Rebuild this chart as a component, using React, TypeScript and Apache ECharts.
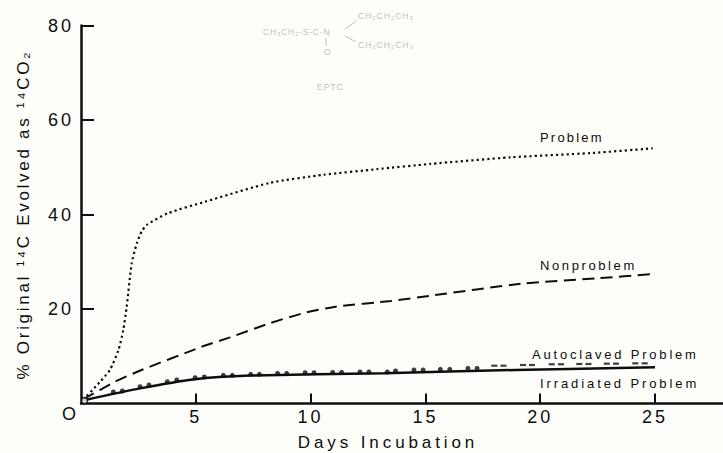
import React, { useEffect, useRef } from "react";
import * as echarts from "echarts";

const xTicks = [5, 10, 15, 20, 25];
const yTicks = [20, 40, 60, 80];

const problem = [[0.1,0.8],[0.83,4.6],[1.26,7.1],[1.63,11.3],[1.84,15.5],[1.99,20.5],[2.21,29.7],[2.43,33.9],[2.64,36.4],[2.86,37.8],[3.8,40.3],[5.4,42.7],[8.23,46.7],[10.55,48.4],[12.9,49.6],[15.2,50.7],[18.7,52.1],[22.2,53],[24.9,54]];
const nonproblem = [[0.1,0.9],[1.48,4.6],[2.64,7.1],[5.26,12],[6.49,14],[8.23,17],[9.67,19.1],[11.1,20.5],[13.5,21.7],[15.2,22.8],[19.25,25.4],[22.5,26.5],[24.9,27.4]];
const irradiated = [[0.03,0.6],[2.57,3.2],[4.88,5.1],[7.36,5.9],[13.2,6.4],[18.9,7.1],[25,7.65]];
const autoclavedDots = [[1.41,2.43],[1.8,2.65],[2.57,3.56],[2.96,3.92],[3.76,4.62],[4.17,4.97],[4.97,5.47],[5.37,5.61],[6.2,5.96],[6.59,5.96],[7.39,6.17],[7.77,6.17],[8.56,6.38],[8.96,6.38],[9.76,6.52],[10.15,6.52],[10.96,6.59],[11.35,6.59],[12.15,6.66],[12.54,6.66],[13.34,6.66],[13.7,6.88],[14.5,7.09],[14.9,7.09],[15.65,7.23],[16.06,7.23],[16.85,7.44],[17.25,7.44]];
const autoclavedDashes = [[18,8],[18.4,8],[19.25,8.15],[19.64,8.15],[20.5,8.3],[20.9,8.3],[21.7,8.36],[22.1,8.36],[22.9,8.43],[23.3,8.43],[24.14,8.5],[24.55,8.5]];
const origin = [[0.15,0.6]];

const INK = "#0e0e0e";
const PAPER = "#fdfdf9";
const FAINT = "#c2c2bc";
const SANS = '"Liberation Sans", Arial, sans-serif';

const curveLabels = [
  { text: "Problem", x: 540, y: 137 },
  { text: "Nonproblem", x: 540, y: 265 },
  { text: "Autoclaved Problem", x: 532, y: 354 },
  { text: "Irradiated Problem", x: 540, y: 383 },
];
const structureLabels = [
  { text: "CH₃CH₂-S-C-N", x: 263, y: 32 },
  { text: "CH₂CH₂CH₃", x: 358, y: 16 },
  { text: "CH₂CH₂CH₃", x: 358, y: 45 },
  { text: "O", x: 324, y: 52 },
  { text: "EPTC", x: 317, y: 87 },
];
const spacing: Record<string, number> = {
  "Days Incubation": 3.9,
  "% Original ¹⁴C Evolved as ¹⁴CO₂": 2.7,
  "Problem": 2.2,
  "Nonproblem": 2.6,
  "Autoclaved Problem": 2.8,
  "Irradiated Problem": 2.9,
  "CH₃CH₂-S-C-N": 0.8,
  "CH₂CH₂CH₃": 1,
  "EPTC": 1,
};

export default function App() {
  const ref = useRef<HTMLDivElement>(null);
  useEffect(() => {
    document.body.style.margin = "0";
    document.body.style.background = PAPER;
    const chart = echarts.init(ref.current!, undefined, { renderer: "svg" });
    const lineBase = { type: "line", showSymbol: false, smooth: 0.2, silent: true };
    chart.setOption({
      animation: false,
      backgroundColor: PAPER,
      grid: { left: 81, right: 0, top: 25.5, bottom: 49.5, outerBoundsMode: "none" },
      xAxis: {
        type: "value", min: 0, max: 27.96,
        splitLine: { show: false },
        axisLine: { lineStyle: { color: INK, width: 2.5 } },
        axisTick: { inside: true, length: 10, customValues: xTicks, lineStyle: { color: INK, width: 2 } },
        axisLabel: { customValues: xTicks, color: INK, fontFamily: SANS, fontSize: 18, margin: 4 },
        name: "Days Incubation", nameLocation: "middle", nameGap: 30,
        nameTextStyle: { color: INK, fontFamily: SANS, fontSize: 17, padding: [0, 28, 0, 0] },
      },
      yAxis: {
        type: "value", min: 0, max: 80,
        splitLine: { show: false },
        axisLine: { lineStyle: { color: INK, width: 2.5 } },
        axisTick: { inside: true, length: 13, customValues: yTicks, lineStyle: { color: INK, width: 2 } },
        axisLabel: { customValues: yTicks, color: INK, fontFamily: SANS, fontSize: 18, margin: 7 },
        name: "% Original ¹⁴C Evolved as ¹⁴CO₂", nameLocation: "middle", nameGap: 49,
        nameTextStyle: { color: INK, fontFamily: SANS, fontSize: 17 },
      },
      series: [
        { ...lineBase, name: "Problem", data: problem, lineStyle: { color: INK, width: 2.2, type: [2.2, 3.1] } },
        { ...lineBase, name: "Nonproblem", data: nonproblem, lineStyle: { color: INK, width: 2, type: [12, 6.5] } },
        { ...lineBase, name: "Irradiated Problem", data: irradiated, lineStyle: { color: INK, width: 2.5 } },
        { type: "scatter", name: "Autoclaved Problem", data: autoclavedDots, symbol: "circle", symbolSize: 5, itemStyle: { color: INK }, silent: true },
        { type: "scatter", name: "Autoclaved Problem", data: autoclavedDashes, symbol: "rect", symbolSize: [6, 2.2], itemStyle: { color: INK }, silent: true },
        { type: "scatter", name: "Start", data: origin, z: 5, symbol: "circle", symbolSize: 6, itemStyle: { color: PAPER, borderColor: INK, borderWidth: 1.6 }, silent: true },
      ],
      graphic: [
        { type: "text", x: 62, y: 405, style: { text: "O", fill: INK, font: `18px ${SANS}` } },
        ...curveLabels.map((l) => ({
          type: "text", x: l.x, y: l.y,
          style: { text: l.text, fill: INK, font: `13px ${SANS}`, verticalAlign: "middle" },
        })),
        ...structureLabels.map((l) => ({
          type: "text", x: l.x, y: l.y,
          style: { text: l.text, fill: FAINT, font: `8.5px ${SANS}`, verticalAlign: "middle" },
        })),
        { type: "line", shape: { x1: 345, y1: 29, x2: 356, y2: 21 }, style: { stroke: FAINT, lineWidth: 1 } },
        { type: "line", shape: { x1: 345, y1: 36, x2: 356, y2: 42 }, style: { stroke: FAINT, lineWidth: 1 } },
        { type: "line", shape: { x1: 326, y1: 38, x2: 326, y2: 46 }, style: { stroke: FAINT, lineWidth: 1 } },
      ],
    });
    ref.current!.querySelectorAll("text").forEach((t) => {
      const s = t.textContent || "";
      const v = spacing[s] ?? (/^\d+$/.test(s) ? 3 : 0);
      if (v) (t as SVGTextElement).style.letterSpacing = `${v}px`;
    });
    return () => chart.dispose();
  }, []);
  return <div ref={ref} style={{ width: 723, height: 453 }} />;
}
